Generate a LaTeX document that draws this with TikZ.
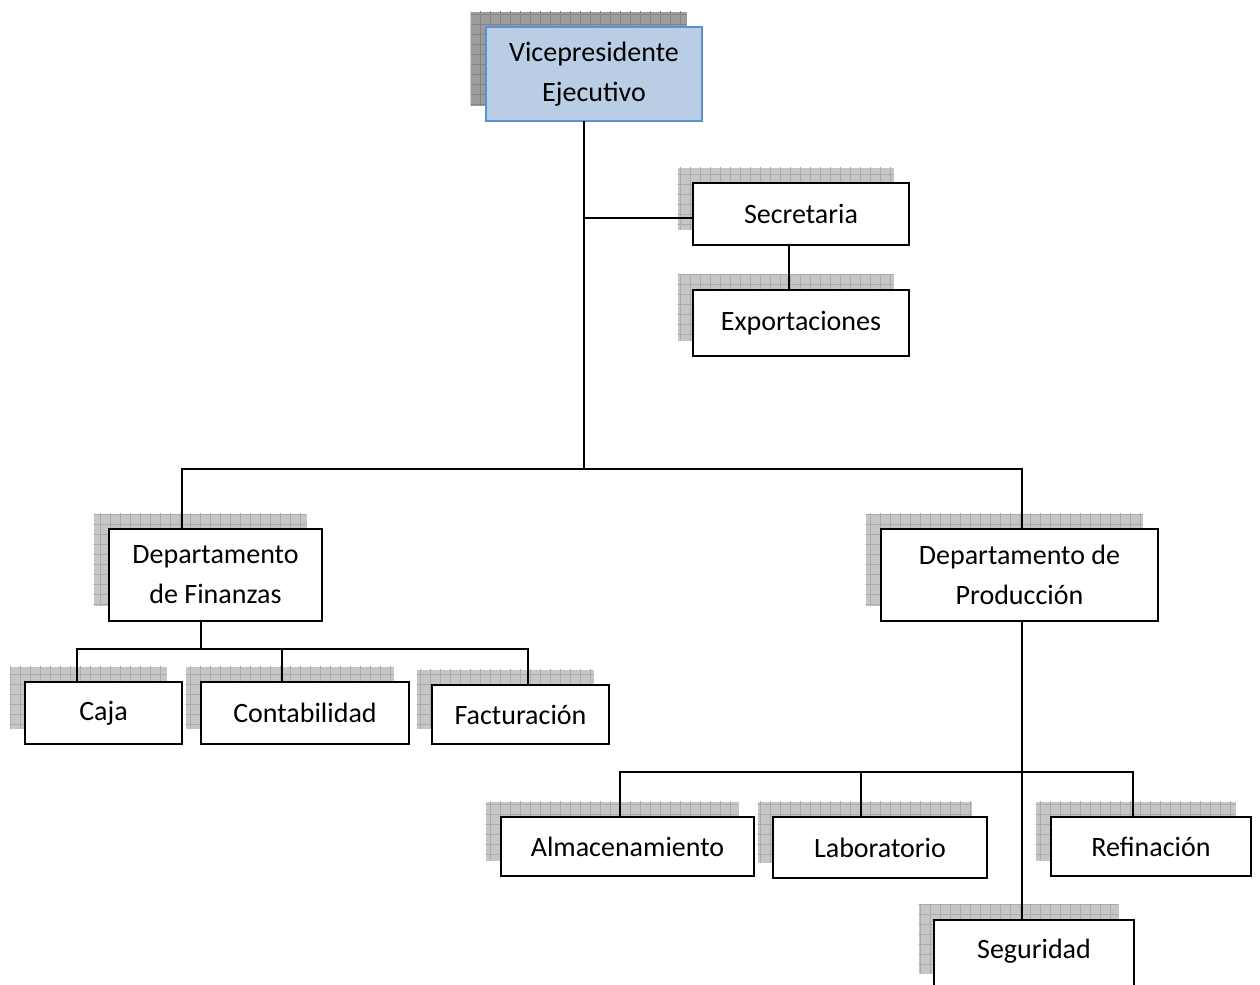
\documentclass[tikz,border=0pt]{standalone}
\usepackage{fontspec}
\setmainfont{Carlito}
\usetikzlibrary{shadows, patterns.meta}
\definecolor{vpfill}{HTML}{B9CDE5}
\definecolor{vpline}{HTML}{5B8FD6}
\definecolor{shadelight}{HTML}{C6C6C6}
\definecolor{gridlight}{HTML}{ABABAB}
\definecolor{shadedark}{HTML}{9C9C9C}
\definecolor{griddark}{HTML}{848484}
\tikzstyle{unitbase} = [draw=black, line width=1pt, fill=white, inner sep=0pt, align=center, font=\fontsize{14}{20}\selectfont]
\tikzstyle{unit} = [unitbase,
  general shadow={shadow xshift=-7.75pt, shadow yshift=7.75pt, fill=shadelight},
  general shadow={shadow xshift=-7.75pt, shadow yshift=7.75pt, pattern={Hatch[distance=5pt, angle=0, line width=0.5pt]}, pattern color=gridlight}]
\tikzstyle{head} = [unitbase, fill=vpfill, draw=vpline, line width=0.8pt,
  general shadow={shadow xshift=-7.75pt, shadow yshift=7.75pt, fill=shadedark},
  general shadow={shadow xshift=-7.75pt, shadow yshift=7.75pt, pattern={Hatch[distance=5pt, angle=0, line width=0.5pt]}, pattern color=griddark}]
\tikzstyle{link} = [line width=1pt, line cap=rect]

\begin{document}
\begin{tikzpicture}[x=0.5pt, y=-0.5pt]
  \clip (0,0) rectangle (1260,985);
  \fill[white] (0,0) rectangle (1260,985);

  % boxes
  \node[head, minimum width=108pt, minimum height=47pt] (vp) at (594,74) {Vicepresidente\\Ejecutivo};
  \node[unit, minimum width=108pt, minimum height=31pt] (sec) at (801,214) {Secretaria};
  \node[unit, minimum width=108pt, minimum height=33pt] (exp) at (801,323) {Exportaciones};
  \node[unit, minimum width=106.5pt, minimum height=46pt] (fin) at (215.5,575) {Departamento\\de Finanzas};
  \node[unit, minimum width=138.5pt, minimum height=46pt] (prod) at (1019.5,575) {Departamento de\\Producción};
  \node[unit, minimum width=78.5pt, minimum height=31pt] (caja) at (103.5,713) {Caja};
  \node[unit, minimum width=104pt, minimum height=31pt] (cont) at (305,713) {Contabilidad};
  \node[unit, minimum width=88.5pt, minimum height=29.5pt] (fac) at (520.5,714.5) {Facturación};
  \node[unit, minimum width=126.5pt, minimum height=29.5pt] (alm) at (627.5,846.5) {Almacenamiento};
  \node[unit, minimum width=107pt, minimum height=30.5pt] (lab) at (880,847.5) {Laboratorio};
  \node[unit, minimum width=100pt, minimum height=29.5pt] (ref) at (1151,846.5) {Refinación};
  \node[unit, minimum width=100pt, minimum height=0pt, text height=19pt, text depth=15.5pt, anchor=north] (seg) at (1034,919) {Seguridad};

  % joints
  \coordinate (vpbar) at (584,469);
  \coordinate (finup) at (182,469);
  \coordinate (produp) at (1022,469);
  \coordinate (secjoin) at (584,218);
  \coordinate (secdrop) at (789,268);
  \coordinate (finbar) at (201,649);
  \coordinate (cajup) at (77,649);
  \coordinate (contup) at (282,649);
  \coordinate (facup) at (528,649);
  \coordinate (prodbar) at (1022,772);
  \coordinate (almup) at (620,772);
  \coordinate (labup) at (861,772);
  \coordinate (refup) at (1133,772);

  % connectors
  \draw[link] (vp.south -| vpbar) -- (vpbar);
  \draw[link] (secjoin) -- (secjoin -| sec.west);
  \draw[link] (sec.south -| secdrop) -- (exp.north -| secdrop);
  \draw[link] (finup) -- (produp);
  \draw[link] (finup) -- (fin.north -| finup);
  \draw[link] (produp) -- (prod.north -| produp);
  \draw[link] (fin.south -| finbar) -- (finbar);
  \draw[link] (cajup) -- (facup);
  \foreach \n/\c in {caja/cajup, cont/contup, fac/facup}
    \draw[link] (\c) -- (\n.north -| \c);
  \draw[link] (prod.south -| prodbar) -- (seg.north -| prodbar);
  \draw[link] (almup) -- (refup);
  \foreach \n/\c in {alm/almup, lab/labup, ref/refup}
    \draw[link] (\c) -- (\n.north -| \c);
\end{tikzpicture}
\end{document}
